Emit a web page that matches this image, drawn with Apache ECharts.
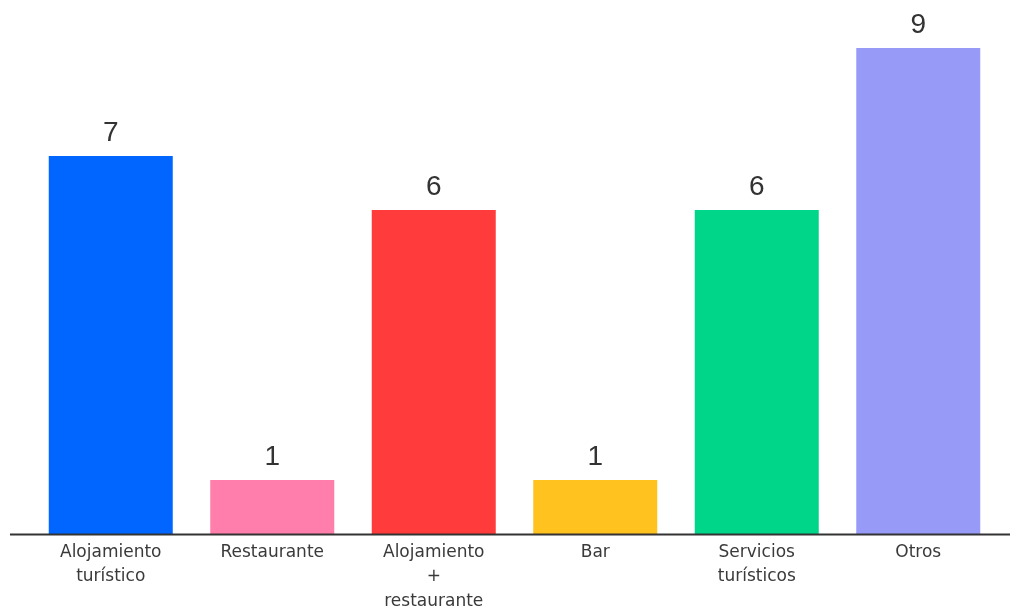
<!DOCTYPE html>
<html>
<head>
<meta charset="utf-8">
<script src="https://cdn.jsdelivr.net/npm/echarts@6/dist/echarts.min.js"></script>
<style>
html, body { margin: 0; padding: 0; background: #fff; }
#chart { width: 1010px; height: 612px; }
</style>
</head>
<body>
<div id="chart"></div>
<script>
// datos
var categorias = ['Alojamiento\nturístico', 'Restaurante', 'Alojamiento\n+\nrestaurante', 'Bar', 'Servicios\nturísticos', 'Otros'];
var valores = [7, 1, 6, 1, 6, 9];
var colores = ['#0066ff', '#ff7eab', '#ff3b3b', '#ffc21f', '#00d68a', '#979bf7'];

var chart = echarts.init(document.getElementById('chart'));

var datos = valores.map(function (v, i) {
    return { value: v, itemStyle: { color: colores[i] } };
});

var option = {
    animation: false,
    grid: { left: 30, right: 11, top: 48, bottom: 78, outerBoundsMode: 'none', containLabel: false },
    graphic: [{
        type: 'line',
        shape: { x1: 10, y1: 534.5, x2: 1010, y2: 534.5 },
        style: { stroke: '#333', lineWidth: 2 },
        z: 10
    }],
    xAxis: {
        type: 'category',
        data: categorias,
        axisLine: { show: false },
        axisTick: { show: false },
        axisLabel: {
            interval: 0,
            color: '#3a3a3a',
            fontFamily: 'DejaVu Sans',
            fontSize: 17,
            lineHeight: 24.5,
            margin: 6
        }
    },
    yAxis: {
        type: 'value',
        min: 0,
        max: 9,
        show: false,
        splitLine: { show: false }
    },
    series: [{
        type: 'bar',
        data: datos,
        barWidth: 124,
        label: {
            show: true,
            position: 'top',
            distance: 9,
            color: '#333',
            fontFamily: 'Liberation Sans',
            fontSize: 28
        }
    }]
};
chart.setOption(option);
</script>
</body>
</html>
